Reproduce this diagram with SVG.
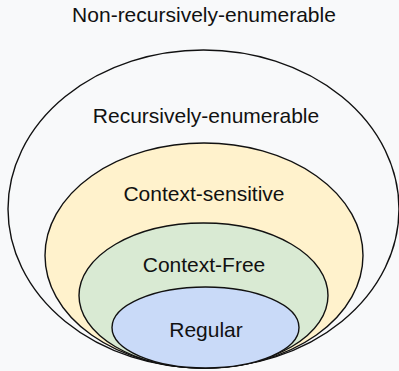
<svg xmlns="http://www.w3.org/2000/svg" width="399" height="371" viewBox="0 0 399 371">
<style>
.set{stroke:#111;stroke-width:1.4}
.lbl{font-family:"Liberation Sans",Arial,sans-serif;font-size:21px;fill:#111;text-anchor:middle}
</style>
<rect width="399" height="371" fill="#f8f9fa"/>
<g id="non-re">
<text class="lbl" x="204" y="21.5">Non-recursively-enumerable</text>
</g>
<g id="re">
<ellipse class="set" cx="203.5" cy="209" rx="195.5" ry="159" fill="#f8f9fa"/>
<text class="lbl" x="206" y="122.5">Recursively-enumerable</text>
</g>
<g id="cs">
<ellipse class="set" cx="204" cy="255.5" rx="159" ry="112.5" fill="#fff2cc"/>
<text class="lbl" x="204" y="201">Context-sensitive</text>
</g>
<g id="cf">
<ellipse class="set" cx="203.5" cy="295.5" rx="124.5" ry="72.5" fill="#d9ead3"/>
<text class="lbl" x="204" y="271.5">Context-Free</text>
</g>
<g id="regular">
<ellipse class="set" cx="205.5" cy="327.5" rx="93.5" ry="40.5" fill="#c9daf8"/>
<text class="lbl" x="206" y="337">Regular</text>
</g>
<g id="connectors"/>
</svg>
